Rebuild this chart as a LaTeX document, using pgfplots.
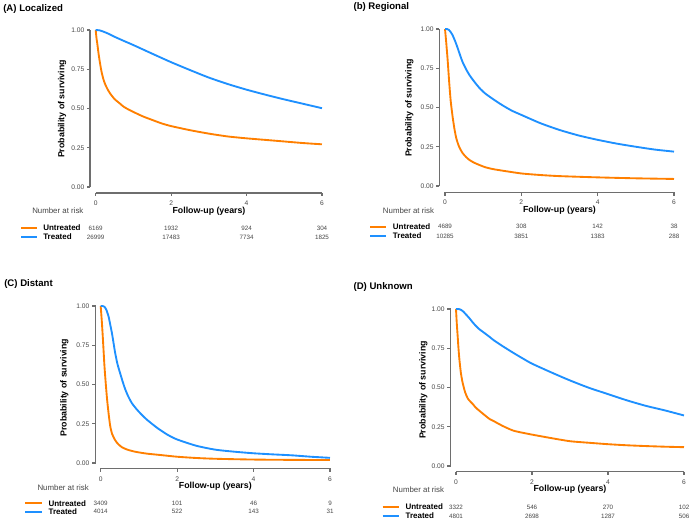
\documentclass[border=0pt]{standalone}
\usepackage{fontspec}
\setmainfont{Liberation Sans}
\usepackage{pgfplots}
\pgfplotsset{compat=1.18}
\definecolor{kmorange}{RGB}{255,127,0}
\definecolor{kmblue}{RGB}{30,144,255}
\definecolor{axgray}{RGB}{110,110,110}
\definecolor{txtgray}{RGB}{70,70,70}
\pgfplotsset{km/.style={
  scale only axis, anchor=south west,
  xmin=0,xmax=6,ymin=0,ymax=1,
  axis line style={draw=none},
  xtick={0,2,4,6}, ytick={0,0.25,0.5,0.75,1},
  tick align=outside, major tick length=2.4pt,
  tick style={draw=none},
  y tick label style={/pgf/number format/fixed,/pgf/number format/fixed zerofill,/pgf/number format/precision=2},
  /pgf/number format/assume math mode=true,
  x tick label style={font=\fontsize{5}{6}\selectfont, text=txtgray, yshift=-4.2pt},
  y tick label style={font=\fontsize{5}{6}\selectfont, text=txtgray, xshift=-2.6pt},
  clip=false,
  every axis plot/.append style={line width=1.4pt, no markers, smooth, tension=0.4, line join=round},
}}
\tikzset{axl/.style={draw=axgray, line width=0.9pt}}
\newcommand{\ttl}[1]{\fontsize{7.2}{8}\selectfont\bfseries #1}
\newcommand{\lab}{\fontsize{6.6}{7.5}\selectfont\bfseries}
\newcommand{\nar}{\fontsize{5.9}{7}\selectfont\color{txtgray}}
\newcommand{\grp}{\fontsize{6}{7}\selectfont\bfseries}
\newcommand{\num}{\fontsize{4.7}{5.5}\selectfont\color{txtgray}}
\begin{document}
\begin{tikzpicture}[x=0.75pt,y=-0.75pt]
\path[use as bounding box] (0,0) rectangle (692,522);
% ---------------- Panel A
\begin{axis}[km, at={(71.775pt,-140.25pt)}, width=169.7pt, height=117.75pt]
\addplot[kmorange] coordinates {(0,1)(0.02,0.95)(0.044,0.91)(0.07,0.86)(0.1,0.81)(0.15,0.74)(0.2,0.69)(0.25,0.655)(0.32,0.62)(0.4,0.59)(0.5,0.56)(0.6,0.54)(0.75,0.51)(0.9,0.49)(1.0,0.478)(1.25,0.45)(1.5,0.427)(1.75,0.405)(2,0.388)(2.5,0.362)(3,0.34)(3.5,0.322)(4,0.31)(4.5,0.30)(5,0.29)(5.5,0.28)(6,0.272)};
\addplot[kmblue] coordinates {(0,1)(0.1,0.998)(0.2,0.99)(0.35,0.975)(0.5,0.957)(0.75,0.93)(1,0.904)(1.5,0.849)(2,0.795)(2.5,0.745)(3,0.697)(3.5,0.656)(4,0.62)(4.5,0.588)(5,0.558)(5.5,0.53)(6,0.502)};
\end{axis}
\draw[axl] (95.7,193) -- (322,193);
\draw[axl] (90,187) -- (90,30);
\foreach \xx in {95.7,171.1,246.6,322} {\draw[axl] (\xx,193) -- (\xx,196.3);}
\foreach \yy in {187,147.75,108.5,69.25,30} {\draw[axl] (90,\yy) -- (86.7,\yy);}
\node[anchor=west,inner sep=0] at (3,9) {\ttl{(A) Localized}};
\node[rotate=90,inner sep=0] at (62,109) {\lab Probability of surviving};
\node[inner sep=0] at (209,211) {\lab Follow-up (years)};
\node[anchor=west,inner sep=0] at (32,211) {\nar Number at risk};
\draw[kmorange,line width=1.4pt] (21,228) -- (37,228);
\draw[kmblue,line width=1.4pt] (21,237) -- (37,237);
\node[anchor=west,inner sep=0] at (43,228) {\grp Untreated};
\node[anchor=west,inner sep=0] at (43,237) {\grp Treated};
\foreach \x/\a/\b in {95.7/6169/26999,171.1/1932/17483,246.6/924/7734,322/304/1825}{
  \node[inner sep=0] at (\x,228) {\num \a};
  \node[inner sep=0] at (\x,237) {\num \b};}
% ---------------- Panel B
\begin{axis}[km, at={(333.75pt,-139.5pt)}, width=171.75pt, height=117.75pt]
\addplot[kmorange] coordinates {(0,1)(0.03,0.92)(0.07,0.8)(0.11,0.66)(0.15,0.54)(0.2,0.44)(0.25,0.36)(0.3,0.3)(0.37,0.25)(0.46,0.21)(0.55,0.185)(0.64,0.166)(0.75,0.15)(0.9,0.134)(1.05,0.12)(1.25,0.108)(1.5,0.098)(2,0.08)(2.5,0.07)(3,0.063)(4,0.055)(5,0.049)(6,0.045)};
\addplot[kmblue] coordinates {(0,1)(0.05,1.0)(0.1,0.995)(0.15,0.98)(0.2,0.96)(0.27,0.92)(0.33,0.88)(0.4,0.83)(0.46,0.79)(0.55,0.745)(0.64,0.707)(0.75,0.67)(0.9,0.625)(1.05,0.59)(1.25,0.555)(1.5,0.515)(1.75,0.48)(2,0.453)(2.5,0.40)(3,0.357)(3.5,0.322)(4,0.294)(4.5,0.27)(5,0.25)(5.5,0.232)(6,0.219)};
\end{axis}
\draw[axl] (445,192.3) -- (674,192.3);
\draw[axl] (439.3,186) -- (439.3,29);
\foreach \xx in {445,521.3,597.7,674} {\draw[axl] (\xx,192.3) -- (\xx,195.6);}
\foreach \yy in {186,146.75,107.5,68.25,29} {\draw[axl] (439.3,\yy) -- (436,\yy);}
\node[anchor=west,inner sep=0] at (353.3,7) {\ttl{(b) Regional}};
\node[rotate=90,inner sep=0] at (409.3,108) {\lab Probability of surviving};
\node[inner sep=0] at (559.5,210.7) {\lab Follow-up (years)};
\node[anchor=west,inner sep=0] at (382.7,210.5) {\nar Number at risk};
\draw[kmorange,line width=1.4pt] (370,226.7) -- (386,226.7);
\draw[kmblue,line width=1.4pt] (370,236) -- (386,236);
\node[anchor=west,inner sep=0] at (392.7,226.7) {\grp Untreated};
\node[anchor=west,inner sep=0] at (392.7,236) {\grp Treated};
\foreach \x/\a/\b in {445/4689/10285,521.3/308/3851,597.7/142/1383,674/38/288}{
  \node[inner sep=0] at (\x,226.7) {\num \a};
  \node[inner sep=0] at (\x,236) {\num \b};}
% ---------------- Panel C
\begin{axis}[km, at={(75.5pt,-347.25pt)}, width=172pt, height=117.75pt]
\addplot[kmorange] coordinates {(0,1)(0.025,0.92)(0.05,0.826)(0.075,0.72)(0.1,0.614)(0.135,0.5)(0.17,0.40)(0.21,0.31)(0.25,0.235)(0.3,0.185)(0.38,0.145)(0.46,0.12)(0.56,0.1)(0.7,0.085)(0.9,0.072)(1.2,0.06)(1.6,0.05)(2,0.04)(2.5,0.032)(3,0.027)(4,0.022)(5,0.02)(6,0.019)};
\addplot[kmblue] coordinates {(0,1)(0.05,1)(0.1,0.995)(0.15,0.975)(0.21,0.93)(0.26,0.87)(0.3,0.82)(0.34,0.76)(0.38,0.70)(0.44,0.63)(0.51,0.571)(0.58,0.515)(0.645,0.468)(0.72,0.425)(0.82,0.38)(0.95,0.34)(1.08,0.306)(1.2,0.278)(1.34,0.25)(1.5,0.22)(1.75,0.18)(2,0.15)(2.5,0.11)(3,0.085)(3.5,0.072)(4,0.062)(4.5,0.055)(5,0.049)(5.5,0.04)(6,0.033)};
\end{axis}
\draw[axl] (100.7,468.3) -- (330,468.3);
\draw[axl] (95.5,463) -- (95.5,306);
\foreach \xx in {100.7,177.1,253.6,330} {\draw[axl] (\xx,468.3) -- (\xx,471.6);}
\foreach \yy in {463,423.75,384.5,345.25,306} {\draw[axl] (95.5,\yy) -- (92.2,\yy);}
\node[anchor=west,inner sep=0] at (4,284.3) {\ttl{(C) Distant}};
\node[rotate=90,inner sep=0] at (64.3,387.7) {\lab Probability of surviving};
\node[inner sep=0] at (215.3,486.7) {\lab Follow-up (years)};
\node[anchor=west,inner sep=0] at (37.3,487.7) {\nar Number at risk};
\draw[kmorange,line width=1.4pt] (25,503.3) -- (41.7,503.3);
\draw[kmblue,line width=1.4pt] (25,511.7) -- (41.7,511.7);
\node[anchor=west,inner sep=0] at (48.3,503.3) {\grp Untreated};
\node[anchor=west,inner sep=0] at (48.3,511.7) {\grp Treated};
\foreach \x/\a/\b in {100.7/3409/4014,177.1/101/522,253.6/46/143,330/9/31}{
  \node[inner sep=0] at (\x,503.3) {\num \a};
  \node[inner sep=0] at (\x,511.7) {\num \b};}
% ---------------- Panel D
\begin{axis}[km, at={(342pt,-349.5pt)}, width=171pt, height=117.75pt]
\addplot[kmorange] coordinates {(0,1)(0.02,0.91)(0.044,0.826)(0.065,0.75)(0.09,0.677)(0.13,0.59)(0.175,0.53)(0.24,0.47)(0.31,0.43)(0.38,0.41)(0.44,0.395)(0.52,0.372)(0.61,0.353)(0.75,0.325)(0.88,0.30)(1,0.285)(1.23,0.255)(1.5,0.226)(1.75,0.212)(2,0.2)(2.5,0.178)(3,0.158)(3.5,0.148)(4,0.139)(4.5,0.132)(5,0.127)(5.5,0.123)(6,0.12)};
\addplot[kmblue] coordinates {(0,1)(0.07,1.0)(0.13,0.995)(0.2,0.982)(0.26,0.966)(0.35,0.942)(0.44,0.915)(0.52,0.893)(0.61,0.872)(0.75,0.847)(0.88,0.823)(1,0.80)(1.23,0.763)(1.5,0.722)(1.75,0.686)(2,0.652)(2.5,0.597)(3,0.545)(3.5,0.498)(4,0.458)(4.5,0.418)(5,0.383)(5.5,0.354)(6,0.322)};
\end{axis}
\draw[axl] (456,471.7) -- (684,471.7);
\draw[axl] (450.7,466) -- (450.7,309);
\foreach \xx in {456,532,608,684} {\draw[axl] (\xx,471.7) -- (\xx,475);}
\foreach \yy in {466,426.75,387.5,348.25,309} {\draw[axl] (450.7,\yy) -- (447.4,\yy);}
\node[anchor=west,inner sep=0] at (353.3,286.7) {\ttl{(D) Unknown}};
\node[rotate=90,inner sep=0] at (423.3,390) {\lab Probability of surviving};
\node[inner sep=0] at (570,489.3) {\lab Follow-up (years)};
\node[anchor=west,inner sep=0] at (392.7,489.3) {\nar Number at risk};
\draw[kmorange,line width=1.4pt] (382.7,507) -- (399.3,507);
\draw[kmblue,line width=1.4pt] (382.7,516) -- (399.3,516);
\node[anchor=west,inner sep=0] at (405.3,507) {\grp Untreated};
\node[anchor=west,inner sep=0] at (405.3,516) {\grp Treated};
\foreach \x/\a/\b in {456/3322/4801,532/546/2698,608/270/1287,684/102/506}{
  \node[inner sep=0] at (\x,507) {\num \a};
  \node[inner sep=0] at (\x,516) {\num \b};}
\end{tikzpicture}
\end{document}
